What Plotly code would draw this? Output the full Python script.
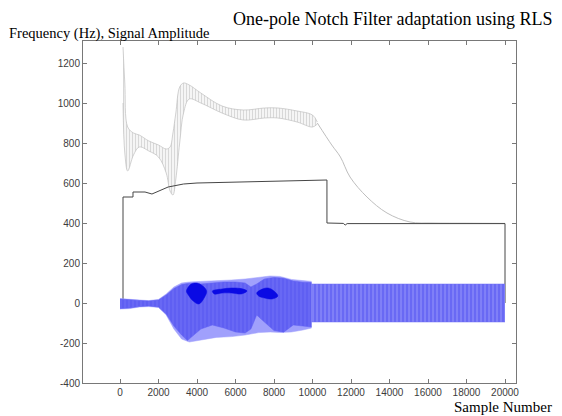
import plotly.graph_objects as go

# ---------------- data ----------------
x_ticks = [0, 2000, 4000, 6000, 8000, 10000, 12000, 14000, 16000, 18000, 20000]
y_ticks = [-400, -200, 0, 200, 400, 600, 800, 1000, 1200]

# adaptive frequency estimate (grey, oscillating band)
band_x = [156, 250, 400, 700, 1000, 1500, 2000, 2400, 2600, 2750, 2900, 3100, 3300,
          3600, 4200, 5300, 6400, 7500, 8200, 9200, 10000, 10250]
band_up = [1280, 1100, 880, 850, 840, 810, 790, 770, 780, 850, 950, 1080, 1100,
           1090, 1050, 985, 965, 975, 975, 960, 940, 905]
band_lo = [1000, 750, 660, 740, 780, 760, 730, 650, 560, 540, 620, 800, 950,
           1020, 1000, 950, 915, 925, 925, 905, 880, 895]
tail_x = [10250, 11000, 11450, 11950, 12830, 13870, 15065, 16260, 18000, 20000]
tail_y = [900, 790, 730, 630, 530, 450, 405, 400, 399, 398]

# true notch frequency (black steps)
freq_x = [156, 156, 675, 675, 1300, 1660, 2500, 3300, 4000, 6000, 8000, 10000, 10750,
          10750, 11600, 11700, 11800, 20000, 20000]
freq_y = [0, 530, 530, 555, 555, 545, 580, 595, 600, 605, 610, 615, 615,
          400, 398, 390, 397, 397, 0]

# signal amplitude envelopes (blue)
env_x = [0, 500, 1000, 1500, 2000, 2400, 2800, 3200, 3600, 4200, 5000, 5800, 6500,
         7200, 7800, 8300, 8900, 9500, 9950]
env_up = [22, 20, 15, 12, 18, 45, 80, 100, 105, 108, 110, 115, 120, 128, 135, 133, 118, 112, 108]
env_lo = [-30, -28, -20, -18, -22, -60, -130, -180, -195, -185, -172, -168, -160,
          -148, -145, -147, -145, -135, -125]

mid_x = [0, 500, 1000, 1500, 2000, 2400, 2800, 3200, 3500, 3800, 4200, 4800, 5400,
         6000, 6500, 6800, 7100, 7500, 8000, 8500, 9000, 9500, 9950]
mid_up = [20, 18, 13, 10, 15, 40, 72, 92, 97, 98, 95, 100, 105, 105, 100, 80, 95,
          120, 128, 124, 110, 104, 102]
mid_lo = [-28, -25, -18, -15, -20, -55, -115, -160, -188, -165, -130, -110, -125,
          -145, -150, -130, -60, -95, -138, -146, -110, -115, -120]

dark1_x = [3450, 3700, 4000, 4300, 4500, 4400, 4100, 3800, 3550, 3450]
dark1_y = [60, 95, 100, 85, 60, 30, -5, 10, 40, 60]
dark2_x = [4800, 5300, 5800, 6300, 6600, 6300, 5800, 5300, 4900, 4800]
dark2_y = [60, 70, 75, 72, 60, 45, 50, 50, 45, 60]
dark3_x = [7100, 7400, 7700, 8000, 8200, 7900, 7500, 7200, 7100]
dark3_y = [50, 70, 75, 60, 35, 20, 25, 35, 50]

steady_x = [9950, 20000]
steady_up = [95, 95]
steady_lo = [-95, -95]

# ---------------- figure ----------------
fig = go.Figure()

GREY = "rgb(190,190,190)"

# grey band
fig.add_trace(go.Scatter(x=band_x, y=band_lo, mode="lines", line_shape="spline",
                         line=dict(color=GREY, width=0.7), hoverinfo="skip"))
fig.add_trace(go.Scatter(x=band_x, y=band_up, mode="lines", fill="tonexty", line_shape="spline",
                         fillcolor="rgba(238,238,238,0.6)",
                         fillpattern=dict(shape="|", size=3, solidity=0.3,
                                          fgcolor="rgb(180,180,180)"),
                         line=dict(color=GREY, width=0.7), hoverinfo="skip"))
fig.add_trace(go.Scatter(x=tail_x, y=tail_y, mode="lines", line_shape="spline",
                         line=dict(color=GREY, width=1), hoverinfo="skip"))

# black frequency steps
fig.add_trace(go.Scatter(x=freq_x, y=freq_y, mode="lines",
                         line=dict(color="rgb(70,70,70)", width=1), hoverinfo="skip"))

# blue signal
LIGHT = "rgb(160,160,252)"
MED = "rgb(95,95,242)"
DARK = "rgb(10,10,228)"
fig.add_trace(go.Scatter(x=env_x, y=env_lo, mode="lines",
                         line=dict(color=LIGHT, width=0.5), hoverinfo="skip"))
fig.add_trace(go.Scatter(x=env_x, y=env_up, mode="lines", fill="tonexty",
                         fillcolor=LIGHT, line=dict(color=LIGHT, width=0.5),
                         hoverinfo="skip"))
fig.add_trace(go.Scatter(x=mid_x, y=mid_lo, mode="lines",
                         line=dict(color=MED, width=0.5), hoverinfo="skip"))
fig.add_trace(go.Scatter(x=mid_x, y=mid_up, mode="lines", fill="tonexty",
                         fillcolor=MED,
                         fillpattern=dict(shape="|", size=4, solidity=0.25,
                                          fgcolor="rgb(130,130,250)", bgcolor=MED),
                         line=dict(color=MED, width=0.5), hoverinfo="skip"))
for dx, dy in [(dark1_x, dark1_y), (dark2_x, dark2_y), (dark3_x, dark3_y)]:
    fig.add_trace(go.Scatter(x=dx, y=dy, mode="lines", fill="toself", line_shape="spline",
                             fillcolor=DARK, line=dict(color=DARK, width=0.5),
                             hoverinfo="skip"))
fig.add_trace(go.Scatter(x=steady_x, y=steady_lo, mode="lines",
                         line=dict(color="rgb(110,110,245)", width=0.5), hoverinfo="skip"))
fig.add_trace(go.Scatter(x=steady_x, y=steady_up, mode="lines", fill="tonexty",
                         fillcolor="rgb(120,120,246)",
                         fillpattern=dict(shape="|", size=4, solidity=0.3,
                                          fgcolor="rgb(180,180,255)",
                                          bgcolor="rgb(105,105,244)"),
                         line=dict(color="rgb(110,110,245)", width=0.5), hoverinfo="skip"))

AX = "rgb(120,120,120)"
TICKFONT = dict(family="Liberation Sans, Arial, sans-serif", size=10, color="rgb(60,60,60)")

fig.update_layout(
    width=562, height=416,
    margin=dict(l=83, r=46, t=41, b=33),
    paper_bgcolor="white", plot_bgcolor="white",
    showlegend=False,
    xaxis=dict(range=[-1922, 20571], tickvals=x_ticks, ticktext=[str(v) for v in x_ticks],
               showgrid=False, zeroline=False, showline=True, linecolor=AX, linewidth=1,
               mirror="ticks", ticks="inside", ticklen=4, tickcolor=AX, tickfont=TICKFONT),
    yaxis=dict(range=[-400, 1310], tickvals=y_ticks, ticktext=[str(v) for v in y_ticks],
               showgrid=False, zeroline=False, showline=True, linecolor=AX, linewidth=1,
               mirror="ticks", ticks="inside", ticklen=4, tickcolor=AX, tickfont=TICKFONT),
    annotations=[
        dict(text="One-pole Notch Filter adaptation using RLS", xref="paper", yref="paper",
             x=1.0867, y=1.064, xanchor="right", yanchor="middle", showarrow=False,
             font=dict(family="Liberation Serif, Times New Roman, serif", size=18, color="black")),
        dict(text="Frequency (Hz), Signal Amplitude", xref="paper", yref="paper",
             x=-0.176, y=1.022, xanchor="left", yanchor="middle", showarrow=False,
             font=dict(family="Liberation Serif, Times New Roman, serif", size=14.5, color="black")),
        dict(text="Sample Number", xref="paper", yref="paper",
             x=1.0867, y=-0.07, xanchor="right", yanchor="middle", showarrow=False,
             font=dict(family="Liberation Serif, Times New Roman, serif", size=15, color="black")),
    ],
)

fig.write_html("out.html")
